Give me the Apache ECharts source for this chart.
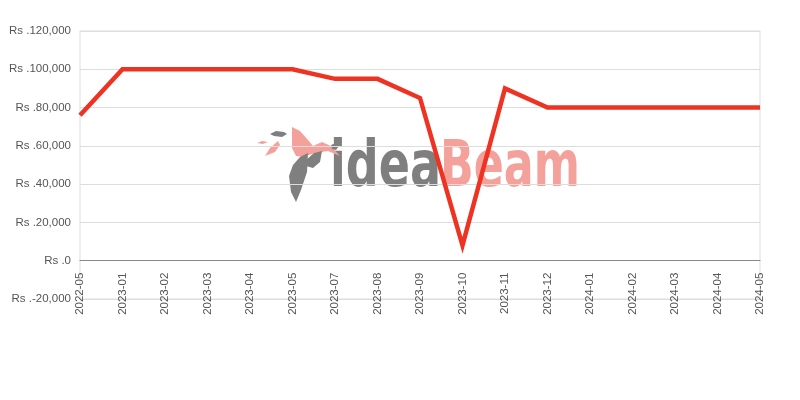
<!DOCTYPE html>
<html>
<head>
<meta charset="utf-8">
<script src="https://cdn.jsdelivr.net/npm/echarts@6/dist/echarts.min.js"></script>
<style>html,body{margin:0;padding:0;background:#fff}#c{width:800px;height:400px}</style>
</head>
<body>
<div id="c"></div>
<script>
var categories = ['2022-05','2023-01','2023-02','2023-03','2023-04','2023-05','2023-07','2023-08','2023-09','2023-10','2023-11','2023-12','2024-01','2024-02','2024-03','2024-04','2024-05'];
var prices = [76000,100000,100000,100000,100000,100000,95000,95000,85000,8000,90000,80000,80000,80000,80000,80000,80000];
var yMin = -20000, yMax = 120000, yStep = 20000;

function fmt(v){
  var s = Math.abs(v).toString().replace(/\B(?=(\d{3})+(?!\d))/g, ',');
  return 'Rs .' + (v < 0 ? '-' : '') + s;
}

var GRAY = '#7f7f7f', SALMON = '#f5a19b';
var chart = echarts.init(document.getElementById('c'), null, {renderer:'canvas'});
chart.setOption({
  animation: false,
  grid: {left: 80, right: 40, top: 31, bottom: 101, show: true, borderColor: '#dddddd', borderWidth: 1, backgroundColor: 'transparent'},
  graphic: [
    {type:'text', x: 330, y: 137, scaleX: 0.8, z: -10, style:{text:'idea', fill:GRAY, font:'bold 64px "DejaVu Sans Condensed", "DejaVu Sans"', textVerticalAlign:'top'}},
    {type:'text', x: 440, y: 137, scaleX: 0.77, z: -10, style:{text:'Beam', fill:SALMON, font:'bold 64px "DejaVu Sans Condensed", "DejaVu Sans"', textVerticalAlign:'top'}},
    {type:'polygon', z:-10, shape:{points:[[270,134],[276,131],[284,132],[287,134],[282,137],[274,136]]}, style:{fill:GRAY}},
    {type:'polygon', z:-10, shape:{points:[[257,143],[262,141],[268,142],[263,144]]}, style:{fill:SALMON}},
    {type:'polygon', z:-10, shape:{points:[[265,156],[270,148],[278,141],[280,145],[275,152]]}, style:{fill:SALMON}},
    {type:'polygon', z:-10, shape:{points:[[292,127],[300,131],[308,140],[313,146],[322,142],[331,146],[340,156],[328,151],[315,153],[303,157],[296,156],[292,148]]}, style:{fill:SALMON}},
    {type:'polygon', z:-10, shape:{points:[[300,157],[308,153],[307,172],[301,190],[296,202],[291,192],[289,176],[293,165]]}, style:{fill:GRAY}},
    {type:'polygon', z:-10, shape:{points:[[306,160],[314,153],[322,151],[320,162],[313,168],[306,166]]}, style:{fill:GRAY}},
    {type:'polygon', z:-10, shape:{points:[[331,145],[336,143],[339,146],[336,150],[332,149]]}, style:{fill:GRAY}}
  ],
  xAxis: {
    type: 'category', data: categories, boundaryGap: false,
    offset: -38.33,
    axisLine: {onZero: false, lineStyle: {color: '#888888', width: 1}},
    axisTick: {show: false},
    axisLabel: {rotate: 90, color: '#555555', fontSize: 11.5, fontFamily: 'Liberation Sans', interval: 0, margin: 12},
    splitLine: {show: false}
  },
  yAxis: {
    type: 'value', min: yMin, max: yMax, interval: yStep,
    axisLine: {show: false}, axisTick: {show: false},
    axisLabel: {color: '#555555', fontSize: 11.5, fontFamily: 'Liberation Sans', margin: 9, formatter: fmt},
    splitLine: {lineStyle: {color: '#dddddd', width: 1}}
  },
  series: [{
    type: 'line', data: prices, symbol: 'none', z: 5,
    lineStyle: {color: '#ee3322', width: 4.5, join: 'miter'}
  }]
});
</script>
</body>
</html>
